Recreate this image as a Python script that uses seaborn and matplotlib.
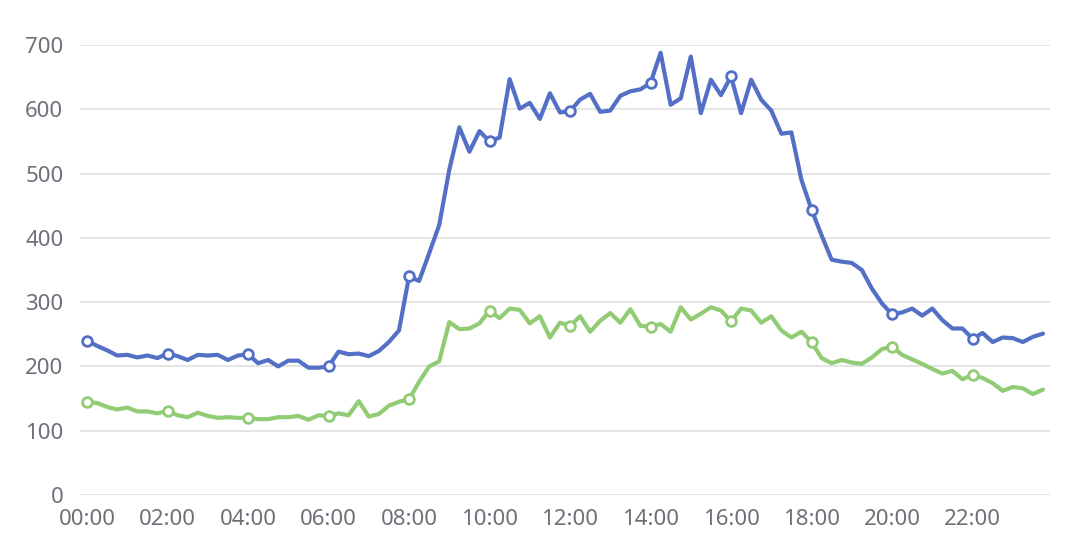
import numpy as np
import pandas as pd
import matplotlib
matplotlib.use("Agg")
import matplotlib.pyplot as plt
import seaborn as sns

# 15-minute samples over one day
times = [f"{h:02d}:{m:02d}" for h in range(24) for m in (0, 15, 30, 45)]

blue_values = [
    240, 232, 225, 217, 218, 214, 217, 213, 220, 216, 210, 218, 217, 218, 210, 217,
    219, 205, 210, 200, 209, 209, 198, 198, 200, 223, 219, 220, 216, 224, 238, 256,
    340, 333, 376, 420, 506, 572, 534, 566, 550, 556, 647, 601, 610, 585, 625, 595,
    597, 615, 624, 596, 598, 621, 628, 631, 641, 688, 607, 617, 682, 594, 646, 622,
    651, 594, 646, 615, 598, 562, 564, 490, 444, 404, 366, 363, 361, 350, 321, 298,
    281, 284, 290, 279, 290, 272, 259, 259, 243, 252, 238, 245, 244, 238, 246, 251,
]
green_values = [
    145, 143, 137, 133, 136, 130, 130, 127, 131, 124, 121, 128, 123, 120, 121, 120,
    120, 118, 118, 121, 121, 123, 117, 124, 123, 127, 124, 146, 122, 126, 139, 145,
    149, 176, 200, 208, 269, 258, 259, 267, 287, 275, 290, 288, 267, 278, 245, 268,
    263, 278, 254, 271, 283, 268, 289, 263, 262, 266, 254, 292, 273, 282, 292, 287,
    270, 290, 287, 268, 278, 256, 245, 254, 238, 213, 205, 210, 206, 204, 214, 227,
    231, 218, 211, 204, 196, 189, 193, 180, 187, 182, 174, 162, 168, 166, 157, 164,
]
tick_labels = ["00:00", "02:00", "04:00", "06:00", "08:00", "10:00",
               "12:00", "14:00", "16:00", "18:00", "20:00", "22:00"]
y_ticks = [0, 100, 200, 300, 400, 500, 600, 700]

df = pd.DataFrame({"idx": np.arange(len(times)), "time": times,
                   "blue": blue_values, "green": green_values})

sns.set_style("white")
plt.rcParams["font.family"] = ["Noto Sans", "DejaVu Sans"]

fig = plt.figure(figsize=(10.8, 5.58), dpi=100)
ax = fig.add_axes([80 / 1080, 63 / 558, 970 / 1080, 450 / 558])

for col, color in [("blue", "#5470c6"), ("green", "#91cc75")]:
    sns.lineplot(data=df, x="idx", y=col, ax=ax, color=color, lw=3,
                 marker="o", markevery=8, markersize=7, markerfacecolor="white",
                 markeredgecolor=color, markeredgewidth=2, zorder=3)

ax.set_xlim(-0.7, 95.7)
ax.set_ylim(0, 700)
ax.set_yticks(y_ticks)
ax.set_xticks([times.index(t) for t in tick_labels])
ax.set_xticklabels(tick_labels)
ax.set_xlabel("")
ax.set_ylabel("")
ax.grid(axis="y", color="#e0e0e0", linewidth=1.2)
ax.grid(axis="x", visible=False)
for s in ax.spines.values():
    s.set_visible(False)
ax.tick_params(axis="both", length=0, labelsize=16, colors="#6e7079")
ax.tick_params(axis="y", pad=12)
ax.tick_params(axis="x", pad=10)

fig.savefig("out.png", dpi=100)
